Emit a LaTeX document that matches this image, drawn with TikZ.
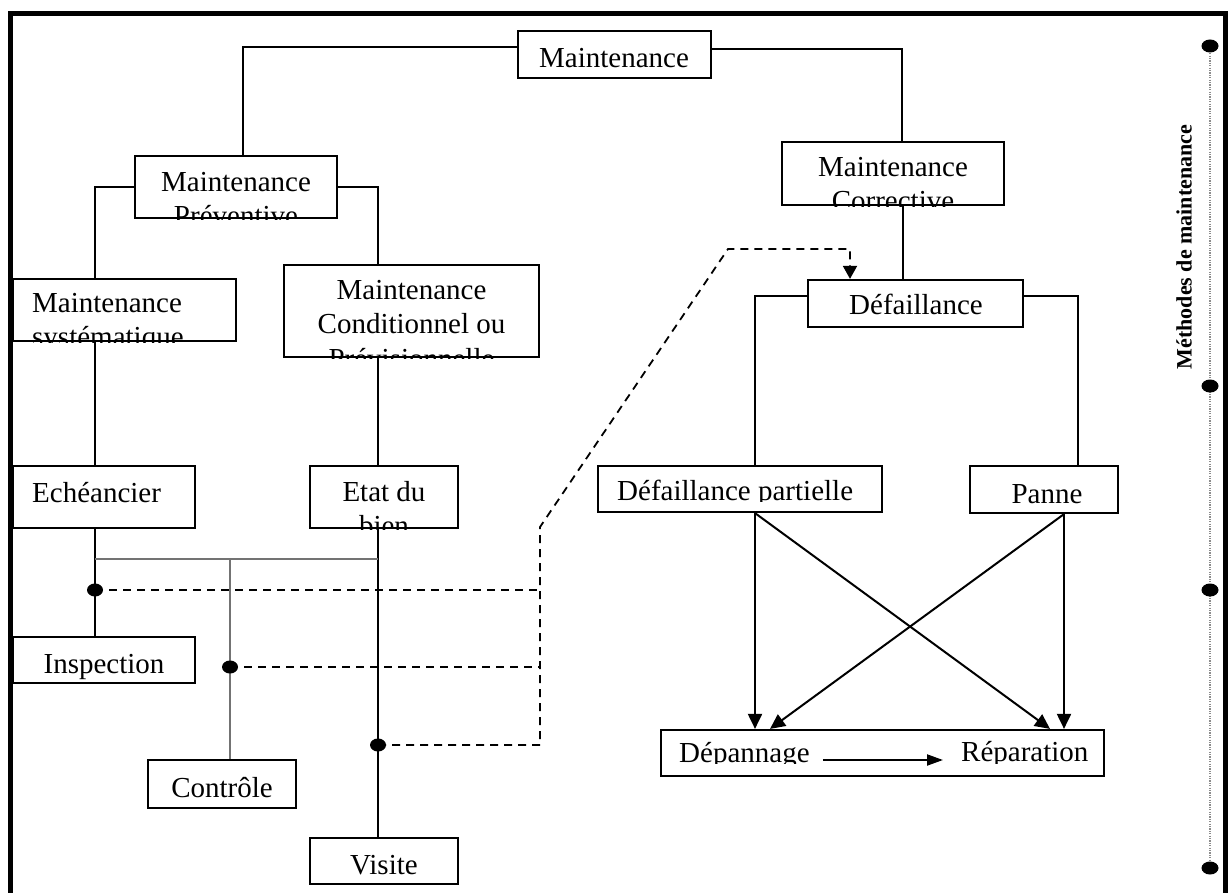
\documentclass[tikz,border=0pt]{standalone}
\usepackage{fontspec}
\setmainfont{Liberation Serif}
\usetikzlibrary{arrows.meta}

% box from its corners: name, x1, y1, x2, y2 (y grows downwards)
\newcommand\DefBox[5]{%
  \node[box, minimum width={(#4)-(#2)}, minimum height={(#5)-(#3)}]
    (#1) at ({((#2)+(#4))/2},{((#3)+(#5))/2}) {};}

\begin{document}
\begin{tikzpicture}[x=1pt,y=-1pt,
  box/.style={draw, line width=2.2pt, fill=white, inner sep=0pt},
  txt/.style={inner sep=0pt, font=\fontsize{29}{34}\selectfont},
  conn/.style={line width=2pt},
  grayline/.style={line width=1.6pt, draw=black!55},
  dsh/.style={line width=1.8pt, dash pattern=on 8pt off 6pt},
  arr/.style={line width=2pt, -{Triangle[length=15pt,width=14pt]}},
  smallarr/.style={line width=2pt, -{Triangle[length=16pt,width=11pt]}},
  dasharr/.style={dsh, -{Triangle[length=13pt,width=14pt]}},
  dot/.style={fill=black},
  scaleline/.style={line width=1.6pt, draw=black!45, dash pattern=on 1.2pt off 1.2pt},
  frame/.style={line width=5pt, line join=miter}
]
\fill[white] (0,0) rectangle (1229,893);
\useasboundingbox (0,0) rectangle (1229,893);

% outer frame, open at the bottom
\draw[frame] (10,893) -- (10,14) -- (1225,14) -- (1225,893);

% ---------- boxes ----------
\DefBox{m}{518}{31}{711}{78}
\DefBox{mp}{135}{156}{337}{218}
\DefBox{mc}{782}{142}{1004}{205}
\DefBox{ms}{13}{279}{236}{341}
\DefBox{mcd}{284}{265}{539}{357}
\DefBox{ech}{13}{466}{195}{528}
\DefBox{etat}{310}{466}{458}{528}
\DefBox{def}{808}{280}{1023}{327}
\DefBox{defp}{598}{466}{882}{512}
\DefBox{panne}{970}{466}{1118}{513}
\DefBox{rep}{661}{730}{1104}{776}
\DefBox{insp}{13}{637}{195}{683}
\DefBox{ctrl}{148}{760}{296}{808}
\DefBox{visite}{310}{838}{458}{884}

% ---------- tree connectors ----------
\draw[conn] (m.west |- 0,47) -| (mp.north -| 243,0);
\draw[conn] (m.east |- 0,49) -| (mc.north -| 902,0);
\draw[conn] (mp.west |- 0,187) -| (ms.north -| 95,0);
\draw[conn] (mp.east |- 0,187) -| (mcd.north -| 378,0);
\draw[conn] (ms.south -| 95,0) -- (ech.north -| 95,0);
\draw[conn] (mcd.south -| 378,0) -- (etat.north -| 378,0);
\draw[conn] (ech.south -| 95,0) -- (insp.north -| 95,0);
\draw[conn] (etat.south -| 378,0) -- (visite.north -| 378,0);

\coordinate (j1) at (95,559);
\coordinate (j2) at (378,559);
\coordinate (j3) at (230,559);
\draw[grayline] (j1) -- (j2);
\draw[grayline] (j3) -- (ctrl.north -| j3);

\draw[conn] (mc.south -| 903,0) -- (def.north -| 903,0);
\draw[conn] (def.west |- 0,296) -| (defp.north -| 755,0);
\draw[conn] (def.east |- 0,296) -| (panne.north -| 1078,0);

\draw[arr] (defp.south -| 755,0) -- (rep.north -| 755,0);
\draw[arr] (defp.south -| 755,0) -- (rep.north -| 1050,0);
\draw[arr] (panne.south -| 1064,0) -- (rep.north -| 1064,0);
\draw[arr] (panne.south -| 1064,0) -- (rep.north -| 770,0);

% ---------- dashed links to the failure ----------
\coordinate (d1) at (95,590);
\coordinate (d2) at (230,667);
\coordinate (d3) at (378,745);
\coordinate (b1) at (540,590);
\coordinate (b2) at (540,667);
\coordinate (b3) at (540,745);
\coordinate (b4) at (540,527);
\coordinate (b5) at (728,249);
\draw[dsh] (d1) -- (b1);
\draw[dsh] (d2) -- (b2);
\draw[dasharr] (d3) -- (b3) -- (b4) -- (b5) -| (def.north -| 850,0);
\fill[dot] (d1) ellipse [x radius=8, y radius=6.5];
\fill[dot] (d2) ellipse [x radius=8, y radius=6.5];
\fill[dot] (d3) ellipse [x radius=8, y radius=6.5];

% ---------- texts ----------
\node[txt, anchor=base] (tm) at (614,68) {Maintenance};
\begin{scope}
  \clip (mp.south west) rectangle (mp.north east);
  \node[txt, anchor=base] (tmp1) at (236,192) {Maintenance};
  \node[txt, anchor=base] (tmp2) at (236,226) {Préventive};
\end{scope}
\begin{scope}
  \clip (mc.south west) rectangle (mc.north east);
  \node[txt, anchor=base] (tmc1) at (893,177) {Maintenance};
  \node[txt, anchor=base] (tmc2) at (893,211) {Corrective};
\end{scope}
\begin{scope}
  \clip (ms.south west) rectangle (ms.north east);
  \node[txt, anchor=base west] (tms1) at (32,313) {Maintenance};
  \node[txt, anchor=base west] (tms2) at (32,347) {systématique};
\end{scope}
\begin{scope}
  \clip (mcd.south west) rectangle (mcd.north east);
  \node[txt, anchor=base] (tmcd1) at (411.5,300) {Maintenance};
  \node[txt, anchor=base] (tmcd2) at (411.5,334) {Conditionnel ou};
  \node[txt, anchor=base] (tmcd3) at (411.5,368) {Prévisionnelle};
\end{scope}
\node[txt, anchor=base west] (tech) at (32,502) {Echéancier};
\begin{scope}
  \clip (etat.south west) rectangle (etat.north east);
  \node[txt, anchor=base] (tetat1) at (384,501) {Etat du};
  \node[txt, anchor=base] (tetat2) at (384,535) {bien};
\end{scope}
\node[txt, anchor=base] (tdef) at (916,315) {Défaillance};
\begin{scope}
  \clip (defp.north west) rectangle (defp.east |- 0,501);
  \node[txt, anchor=base west] (tdefp) at (617,500) {Défaillance partielle};
\end{scope}
\node[txt, anchor=base] (tpanne) at (1047,503) {Panne};
\begin{scope}
  \clip (rep.north west) rectangle (rep.east |- 0,763);
  \node[txt, anchor=base west] (tdep) at (679,762) {Dépannage};
  \node[txt, anchor=base west] (trep) at (961,761) {Réparation};
\end{scope}
\draw[smallarr] ([xshift=13pt,yshift=2pt]tdep.base east) -- ([xshift=-18pt,yshift=1pt]trep.base west);
\node[txt, anchor=base] (tinsp) at (104,673) {Inspection};
\node[txt, anchor=base] (tctrl) at (222,797) {Contrôle};
\node[txt, anchor=base] (tvis) at (384,874) {Visite};

% ---------- side scale ----------
\coordinate (r1) at (1210,46);
\coordinate (r2) at (1210,386);
\coordinate (r3) at (1210,590);
\coordinate (r4) at (1210,868);
\draw[scaleline] (r1) -- (r4);
\foreach \p in {r1,r2,r3,r4}
  \fill[dot] (\p) ellipse [x radius=8.5, y radius=6.5];
\node[rotate=90, inner sep=0pt, font=\bfseries\fontsize{22}{26}\selectfont]
  (title) at (1184,247) {Méthodes de maintenance};
\end{tikzpicture}
\end{document}
